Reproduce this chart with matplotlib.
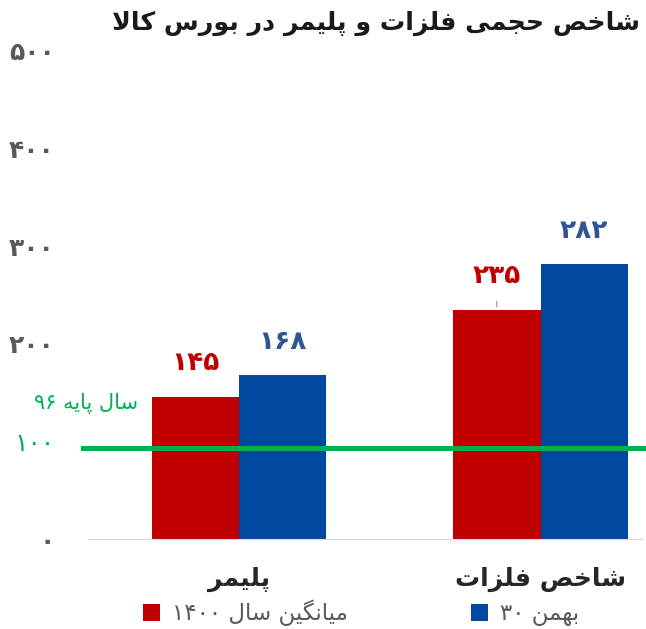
import re
import numpy as np
import matplotlib
matplotlib.use("Agg")
import matplotlib.pyplot as plt

# data
categories = ["پلیمر", "شاخص فلزات"]
avg_1400 = [145, 235]
bahman_30 = [168, 282]
base_level = 93  # green base line as drawn (label says 100)
yticks = [0, 100, 200, 300, 400, 500]
title = "شاخص حجمی فلزات و پلیمر در بورس کالا"
label_avg = "میانگین سال ۱۴۰۰"
label_bahman = "بهمن ۳۰"
base_label = "سال پایه ۹۶"

RED = "#C00000"
BLUE = "#0047A0"
GREEN = "#00B050"

# --- tiny persian shaper (no arabic_reshaper in sandbox) ---
FORMS = {
    'ا': ('\uFE8D', '\uFE8E', None, None),
    'ب': ('\uFE8F', '\uFE90', '\uFE91', '\uFE92'),
    'پ': ('\uFB56', '\uFB57', '\uFB58', '\uFB59'),
    'ت': ('\uFE95', '\uFE96', '\uFE97', '\uFE98'),
    'ج': ('\uFE9D', '\uFE9E', '\uFE9F', '\uFEA0'),
    'ح': ('\uFEA1', '\uFEA2', '\uFEA3', '\uFEA4'),
    'خ': ('\uFEA5', '\uFEA6', '\uFEA7', '\uFEA8'),
    'د': ('\uFEA9', '\uFEAA', None, None),
    'ر': ('\uFEAD', '\uFEAE', None, None),
    'ز': ('\uFEAF', '\uFEB0', None, None),
    'س': ('\uFEB1', '\uFEB2', '\uFEB3', '\uFEB4'),
    'ش': ('\uFEB5', '\uFEB6', '\uFEB7', '\uFEB8'),
    'ص': ('\uFEB9', '\uFEBA', '\uFEBB', '\uFEBC'),
    'ف': ('\uFED1', '\uFED2', '\uFED3', '\uFED4'),
    'ک': ('\uFB8E', '\uFB8F', '\uFB90', '\uFB91'),
    'گ': ('\uFB92', '\uFB93', '\uFB94', '\uFB95'),
    'ل': ('\uFEDD', '\uFEDE', '\uFEDF', '\uFEE0'),
    'م': ('\uFEE1', '\uFEE2', '\uFEE3', '\uFEE4'),
    'ن': ('\uFEE5', '\uFEE6', '\uFEE7', '\uFEE8'),
    'ه': ('\uFEE9', '\uFEEA', '\uFEEB', '\uFEEC'),
    'و': ('\uFEED', '\uFEEE', None, None),
    'ی': ('\uFBFC', '\uFBFD', '\uFBFE', '\uFBFF'),
}


def fa(text):
    chars = list(text)
    out = []
    i = 0
    while i < len(chars):
        c = chars[i]
        if c not in FORMS:
            out.append(c)
            i += 1
            continue
        prev_joins = i > 0 and chars[i-1] in FORMS and FORMS[chars[i-1]][2] is not None
        if c == 'ل' and i + 1 < len(chars) and chars[i+1] == 'ا':
            out.append('\uFEFC' if prev_joins else '\uFEFB')
            i += 2
            continue
        iso, fin, ini, med = FORMS[c]
        next_joins = ini is not None and i + 1 < len(chars) and chars[i+1] in FORMS
        if prev_joins and next_joins:
            out.append(med)
        elif prev_joins:
            out.append(fin)
        elif next_joins:
            out.append(ini)
        else:
            out.append(iso)
        i += 1
    tokens = re.findall(r'[۰-۹]+|[^۰-۹]', ''.join(out))
    return ''.join(tokens[::-1])


def fa_num(v):
    return str(v).translate(str.maketrans("0123456789", "۰۱۲۳۴۵۶۷۸۹"))


plt.rcParams['font.family'] = ['DejaVu Sans']

fig = plt.figure(figsize=(6.46, 6.29), dpi=100)
ax = fig.add_axes([88/646, 90/629, 555/646, 488/629])

x = np.arange(len(categories))
w = 0.29
b1 = ax.bar(x - w/2, avg_1400, w, color=RED, zorder=2)
b2 = ax.bar(x + w/2, bahman_30, w, color=BLUE, zorder=2)

for xi, v in zip(x - w/2, avg_1400):
    ax.annotate(fa_num(v), (xi, v), xytext=(0, 34), textcoords='offset pixels',
                ha='center', va='center', color=RED, fontsize=19, fontweight='bold')
for xi, v in zip(x + w/2, bahman_30):
    ax.annotate(fa_num(v), (xi, v), xytext=(0, 33), textcoords='offset pixels',
                ha='center', va='center', color='#2F5597', fontsize=19, fontweight='bold')
# leader line on the metals label
ax.annotate('', xy=(x[1] - w/2, avg_1400[1]), xytext=(0, 11), textcoords='offset pixels',
            arrowprops=dict(arrowstyle='-', color='#A6A6A6', lw=1))

ax.axhline(base_level, xmin=-5/555, xmax=1, color=GREEN, lw=3.6, zorder=3, clip_on=False)

ax.set_xlim(-0.501, 1.34)
ax.set_ylim(0, 500)
ax.set_yticks(yticks)
ax.set_yticklabels([fa_num(t) for t in yticks], fontsize=18, fontweight='bold', color='#595959')
for lab, t in zip(ax.get_yticklabels(), yticks):
    if t == 100:
        lab.set_color(GREEN)
        lab.set_fontweight('normal')
ax.set_xticks(x)
ax.set_xticklabels([fa(c) for c in categories], fontsize=18, fontweight='bold', color='#262626')
ax.tick_params(axis='y', length=0, pad=24)
ax.tick_params(axis='x', length=0, pad=20)
for s in ['top', 'right', 'left']:
    ax.spines[s].set_visible(False)
ax.spines['bottom'].set_color('#D9D9D9')

fig.text(138/646, 1 - 403/629, fa(base_label), ha='right', va='center',
         color=GREEN, fontsize=15)
fig.text(640/646, 1 - 23/629, fa(title), ha='right', va='center',
         fontsize=18.2, fontweight='bold', color='#1A1A1A')

fig.legend([b1, b2], [fa(label_avg), fa(label_bahman)], loc='center left',
           bbox_to_anchor=(143/646, 1 - 613/629), ncol=2, frameon=False,
           borderpad=0, borderaxespad=0,
           fontsize=16.5, handlelength=0.75, handleheight=0.75, columnspacing=5.4,
           handletextpad=0.5, labelcolor='#595959')

fig.savefig("out.png", dpi=100)
